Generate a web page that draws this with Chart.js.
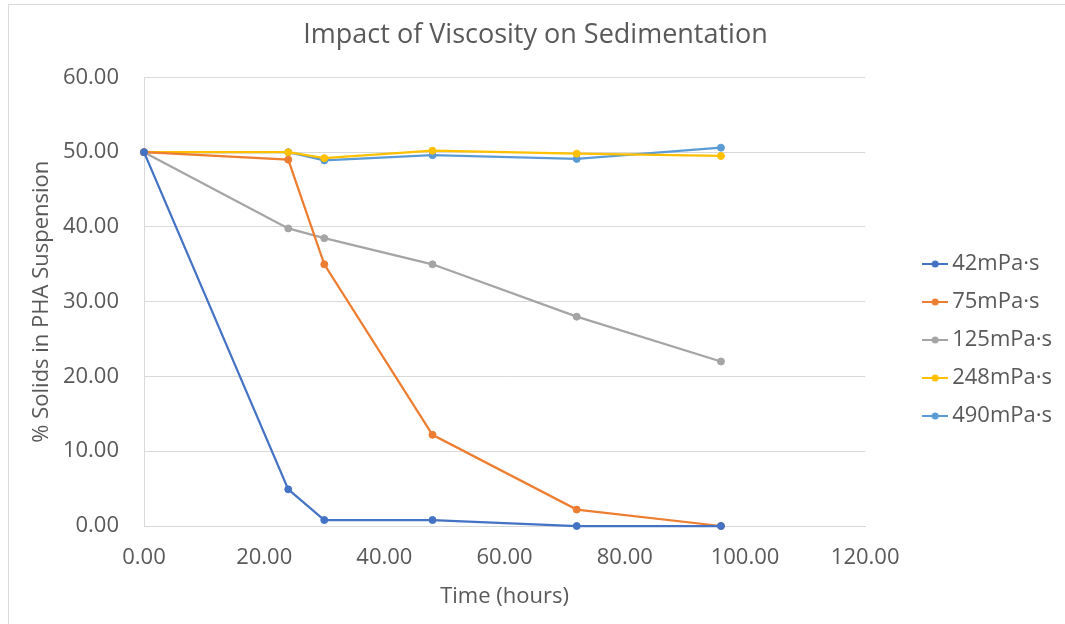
<!DOCTYPE html>
<html>
<head>
<meta charset="utf-8">
<title>Impact of Viscosity on Sedimentation</title>
<script src="https://cdn.jsdelivr.net/npm/chart.js@4"></script>
<style>
    html, body { margin: 0; padding: 0; background: #fff; overflow: hidden; }
    #frame { position: absolute; left: 8px; top: 4px; right: 0; bottom: 0; border-left: 1px solid #d9d9d9; border-top: 1px solid #d9d9d9; }
    #wrap { position: absolute; left: 0; top: 0; width: 1065px; height: 624px; }
</style>
</head>
<body>
<div id="frame"></div>
<div id="wrap"><canvas id="chart"></canvas></div>
<script>
// sampling times (hours)
const hours = [0, 24, 30, 48, 72, 96];

// % solids remaining in suspension, one list per viscosity
const visc42 = [50, 4.9, 0.8, 0.8, 0, 0];
const visc75 = [50, 49, 35, 12.2, 2.2, 0];
const visc125 = [50, 39.8, 38.5, 35, 28, 22];
const visc248 = [50, 50, 49.2, 50.2, 49.8, 49.5];
const visc490 = [50, 50, 48.9, 49.6, 49.1, 50.6];

const seriesLabels = ['42mPa·s', '75mPa·s', '125mPa·s', '248mPa·s', '490mPa·s'];
const seriesValues = [visc42, visc75, visc125, visc248, visc490];
const seriesColors = ['#4472C4', '#ED7D31', '#A5A5A5', '#FFC000', '#5B9BD5'];

const xTicks = {min: 0, max: 120, step: 20};
const yTicks = {min: 0, max: 60, step: 10};

const textColor = '#595959';
const gridColor = '#d9d9d9';
const fontFamily = "'Open Sans', 'Noto Sans', sans-serif";

// line-with-dot swatch for the legend
function lineMarker(color) {
    const c = document.createElement('canvas');
    c.width = 26;
    c.height = 10;
    const ctx = c.getContext('2d');
    ctx.strokeStyle = color;
    ctx.lineWidth = 2;
    ctx.beginPath();
    ctx.moveTo(0, 5);
    ctx.lineTo(26, 5);
    ctx.stroke();
    ctx.fillStyle = color;
    ctx.beginPath();
    ctx.arc(13, 5, 3.5, 0, Math.PI * 2);
    ctx.fill();
    return c;
}

const datasets = seriesLabels.map((label, i) => ({
    label: label,
    data: hours.map((h, j) => ({x: h, y: seriesValues[i][j]})),
    showLine: true,
    borderColor: seriesColors[i],
    backgroundColor: seriesColors[i],
    borderWidth: 2.25,
    pointRadius: 3.5,
    pointBorderWidth: 1,
    tension: 0,
    clip: false
}));

const fmt = v => Number(v).toFixed(2);

new Chart(document.getElementById('chart').getContext('2d'), {
    type: 'scatter',
    data: {datasets: datasets},
    options: {
        responsive: true,
        maintainAspectRatio: false,
        animation: false,
        layout: {padding: {left: 9, right: 3, top: 0, bottom: 0}},
        plugins: {
            tooltip: {enabled: false},
            title: {
                display: true,
                text: 'Impact of Viscosity on Sedimentation',
                color: textColor,
                font: {family: fontFamily, size: 27, weight: 'normal'},
                padding: {top: 19, bottom: 26}
            },
            legend: {
                position: 'right',
                title: {display: true, text: '', font: {size: 10, lineHeight: 1}, padding: 23},
                labels: {
                    color: textColor,
                    font: {family: fontFamily, size: 22},
                    usePointStyle: true,
                    boxWidth: 12,
                    padding: 16,
                    generateLabels: chart => chart.data.datasets.map((ds, i) => ({
                        text: ds.label,
                        fontColor: textColor,
                        pointStyle: lineMarker(ds.borderColor),
                        fillStyle: ds.borderColor,
                        strokeStyle: ds.borderColor,
                        lineWidth: 0,
                        hidden: false,
                        datasetIndex: i
                    }))
                }
            }
        },
        scales: {
            x: {
                type: 'linear',
                min: xTicks.min,
                max: xTicks.max,
                afterFit: s => { s.height = 98; },
                grid: {display: false, drawTicks: false},
                border: {display: true, color: gridColor, width: 1},
                ticks: {
                    stepSize: xTicks.step,
                    color: textColor,
                    padding: 19,
                    font: {family: fontFamily, size: 22},
                    callback: fmt
                },
                title: {
                    display: true,
                    text: 'Time (hours)',
                    color: textColor,
                    font: {family: fontFamily, size: 22},
                    padding: {top: 12, bottom: 14}
                }
            },
            y: {
                min: yTicks.min,
                max: yTicks.max,
                afterFit: s => { s.width = 135; },
                grid: {color: gridColor, lineWidth: 1, drawTicks: false},
                border: {display: true, color: gridColor, width: 1},
                ticks: {
                    stepSize: yTicks.step,
                    color: textColor,
                    padding: 25,
                    font: {family: fontFamily, size: 22},
                    callback: fmt
                },
                title: {
                    display: true,
                    text: '% Solids in PHA Suspension',
                    color: textColor,
                    font: {family: fontFamily, size: 22},
                    padding: {top: 20, bottom: 0}
                }
            },
            // empty gap between the plot and the legend
            gap: {
                type: 'linear',
                position: 'right',
                display: true,
                afterFit: s => { s.width = 48; },
                grid: {display: false},
                border: {display: false},
                ticks: {display: false}
            }
        }
    }
});
</script>
</body>
</html>
